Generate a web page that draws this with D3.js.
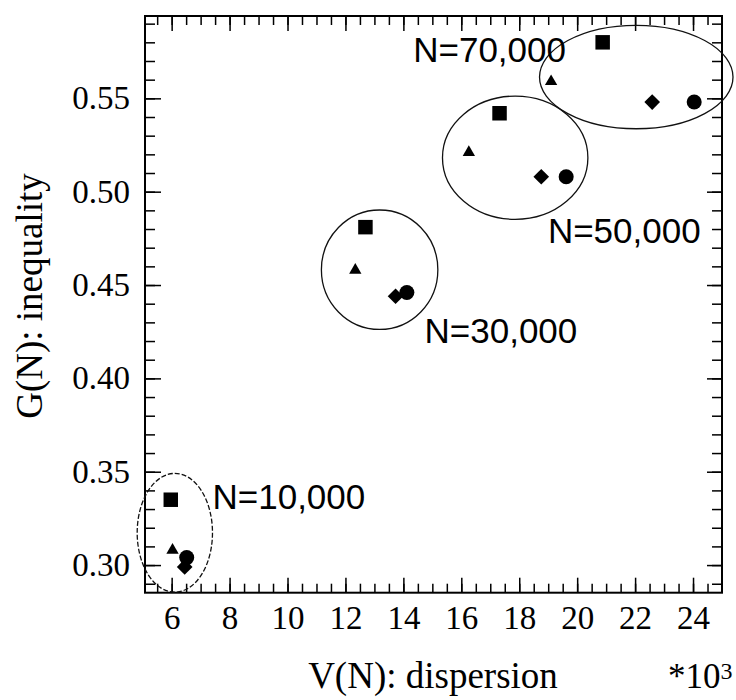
<!DOCTYPE html>
<html>
<head>
<meta charset="utf-8">
<script src="https://cdn.jsdelivr.net/npm/d3@7"></script>
<style>
  html, body { margin: 0; padding: 0; background: #fff; }
  svg { display: block; }
  .tick text { font-family: "Liberation Serif", "Times New Roman", serif; }
</style>
</head>
<body>
<div id="chart"></div>
<script>
// values (V in thousands, G unitless)
const groups = ["N=10,000", "N=30,000", "N=50,000", "N=70,000"]
const squareV = [5.97, 12.69, 17.32, 20.88]
const squareG = [0.335, 0.481, 0.542, 0.580]
const triangleV = [6.03, 12.34, 16.26, 19.10]
const triangleG = [0.308, 0.458, 0.521, 0.559]
const diamondV = [6.45, 13.73, 18.76, 22.59]
const diamondG = [0.299, 0.444, 0.508, 0.548]
const circleV = [6.52, 14.12, 19.62, 24.04]
const circleG = [0.304, 0.446, 0.508, 0.548]

// group ellipses: centre and radii, in data units
const ellipseV = [6.11, 13.18, 17.86, 22.04]
const ellipseG = [0.3173, 0.4582, 0.5182, 0.5614]
const ellipseRV = [1.30, 2.01, 2.51, 3.34]
const ellipseRG = [0.0318, 0.0320, 0.0330, 0.0277]

// where each N label starts (data units)
const labelV = [7.41, 14.73, 18.99, 14.34]
const labelG = [0.3298, 0.4188, 0.4725, 0.5696]

const xTickValues = [6, 8, 10, 12, 14, 16, 18, 20, 22, 24]
const yTickValues = [0.30, 0.35, 0.40, 0.45, 0.50, 0.55]

const width = 736
const height = 700
const plotLeft = 145, plotRight = 722, plotTop = 16, plotBottom = 592.7

const x = d3.scaleLinear().domain([5.08, 25]).range([plotLeft, plotRight])
const y = d3.scaleLinear().domain([0.2852, 0.5941]).range([plotBottom, plotTop])

const serif = "Liberation Serif, Times New Roman, serif"
const sans = "Liberation Sans, Arial, sans-serif"

const svg = d3.select("#chart")
  .append("svg")
  .attr("width", width)
  .attr("height", height)
  .attr("viewBox", [0, 0, width, height])
  .attr("font-family", serif)

svg.append("rect").attr("width", width).attr("height", height).attr("fill", "#fff")

const xMinor = d3.range(5.5, 25, 0.5)
const yMinor = d3.range(0.29, 0.595, 0.01)

const styleAxis = g => {
  g.attr("font-family", serif).attr("font-size", 33)
  g.select(".domain").remove()
  g.selectAll(".tick line").attr("stroke", "#000").attr("stroke-width", 1.5)
  g.selectAll(".tick text")
    .attr("fill", "#000")
    .attr("font-family", serif)
    .attr("font-size", 33)
}

// minor ticks, all four sides
svg.append("g").attr("transform", `translate(0,${plotBottom})`)
  .call(d3.axisBottom(x).tickValues(xMinor).tickSize(-9).tickFormat(""))
  .call(styleAxis)
svg.append("g").attr("transform", `translate(0,${plotTop})`)
  .call(d3.axisTop(x).tickValues(xMinor).tickSize(-9).tickFormat(""))
  .call(styleAxis)
svg.append("g").attr("transform", `translate(${plotLeft},0)`)
  .call(d3.axisLeft(y).tickValues(yMinor).tickSize(-10).tickFormat(""))
  .call(styleAxis)
svg.append("g").attr("transform", `translate(${plotRight},0)`)
  .call(d3.axisRight(y).tickValues(yMinor).tickSize(-10).tickFormat(""))
  .call(styleAxis)

// major ticks
svg.append("g").attr("transform", `translate(0,${plotBottom})`)
  .call(d3.axisBottom(x).tickValues(xTickValues).tickSize(-15).tickPadding(13).tickFormat(d3.format("d")))
  .call(styleAxis)
svg.append("g").attr("transform", `translate(0,${plotTop})`)
  .call(d3.axisTop(x).tickValues(xTickValues).tickSize(-15).tickFormat(""))
  .call(styleAxis)
svg.append("g").attr("transform", `translate(${plotLeft},0)`)
  .call(d3.axisLeft(y).tickValues(yTickValues).tickSize(-16).tickPadding(15).tickFormat(d3.format(".2f")))
  .call(styleAxis)
svg.append("g").attr("transform", `translate(${plotRight},0)`)
  .call(d3.axisRight(y).tickValues(yTickValues).tickSize(-15).tickFormat(""))
  .call(styleAxis)

// frame
svg.append("rect")
  .attr("x", plotLeft).attr("y", plotTop)
  .attr("width", plotRight - plotLeft).attr("height", plotBottom - plotTop)
  .attr("fill", "none").attr("stroke", "#000").attr("stroke-width", 2)

// ellipses round each N group
svg.append("g")
  .selectAll("ellipse")
  .data(groups)
  .join("ellipse")
  .attr("cx", (d, i) => x(ellipseV[i]))
  .attr("cy", (d, i) => y(ellipseG[i]))
  .attr("rx", (d, i) => x(ellipseV[i] + ellipseRV[i]) - x(ellipseV[i]))
  .attr("ry", (d, i) => y(ellipseG[i]) - y(ellipseG[i] + ellipseRG[i]))
  .attr("fill", "none")
  .attr("stroke", "#111")
  .attr("stroke-width", 1.3)
  .attr("stroke-dasharray", (d, i) => i === 0 ? "5,2" : null)

// the four marker series
const series = [
  { v: squareV, g: squareG, type: d3.symbolSquare, size: 210, rot: 0 },
  { v: triangleV, g: triangleG, type: d3.symbolTriangle, size: 66, rot: 0 },
  { v: diamondV, g: diamondG, type: d3.symbolSquare, size: 123, rot: 45 },
  { v: circleV, g: circleG, type: d3.symbolCircle, size: 177, rot: 0 }
]

series.forEach(s => {
  svg.append("g")
    .selectAll("path")
    .data(s.v.map((v, i) => [v, s.g[i]]))
    .join("path")
    .attr("d", d3.symbol(s.type, s.size))
    .attr("transform", d => `translate(${x(d[0])},${y(d[1])}) rotate(${s.rot})`)
    .attr("fill", "#000")
})

// N labels
svg.append("g")
  .selectAll("text")
  .data(groups)
  .join("text")
  .attr("x", (d, i) => x(labelV[i]))
  .attr("y", (d, i) => y(labelG[i]))
  .attr("font-family", sans)
  .attr("font-size", 35)
  .attr("fill", "#000")
  .text(d => d)

// axis titles
svg.append("text")
  .attr("transform", `translate(42,296) rotate(-90)`)
  .attr("text-anchor", "middle")
  .attr("font-size", 37)
  .text("G(N): inequality")

svg.append("text")
  .attr("x", 433)
  .attr("y", 688)
  .attr("text-anchor", "middle")
  .attr("font-size", 37)
  .text("V(N): dispersion")

const unit = svg.append("text")
  .attr("x", 668)
  .attr("y", 688)
  .attr("font-size", 35)
unit.append("tspan").text("*10")
unit.append("tspan").attr("font-size", 24).attr("dy", -9).text("3")
</script>
</body>
</html>
